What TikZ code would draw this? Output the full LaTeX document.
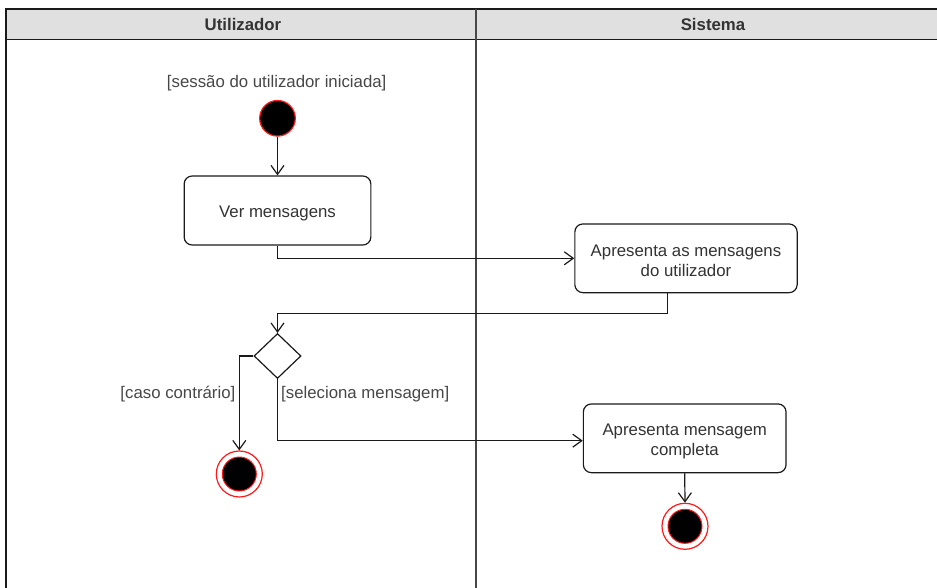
\documentclass[tikz,border=0pt]{standalone}
\usepackage{fontspec}
\setmainfont{Liberation Sans}
\usetikzlibrary{arrows.meta,shapes.geometric}

\definecolor{headfill}{HTML}{E0E0E0}
\definecolor{txt}{HTML}{333333}
\definecolor{edge}{HTML}{1A1A1A}
\definecolor{ring}{HTML}{FF1A1A}

\tikzset{
  lanebar/.style={draw=edge, line width=1.3pt},
  lanehead/.style={font=\fontsize{16.8}{20}\selectfont\bfseries, text=txt},
  actbox/.style={draw=edge, line width=1.2pt, rounded corners=8pt, fill=white,
    inner sep=0pt},
  acttext/.style={align=center, text=txt, font=\fontsize{16.8}{20}\selectfont,
    inner sep=0pt},
  guard/.style={text=txt!90, font=\fontsize{16.8}{20}\selectfont, inner sep=0pt},
  initial/.style={circle, fill=black, draw=ring, line width=1.2pt,
    minimum size=35.6pt, inner sep=0pt},
  finalring/.style={circle, fill=white, draw=ring, line width=1.2pt,
    minimum size=46pt, inner sep=0pt},
  finaldot/.style={circle, fill=black, draw=ring, line width=1pt,
    minimum size=34pt, inner sep=0pt},
  decision/.style={diamond, draw=edge, line width=1.2pt, fill=white,
    minimum width=47pt, minimum height=45pt, inner sep=0pt},
  flow/.style={draw=edge, line width=1.2pt,
    -{Straight Barb[length=9pt,width=13pt,line width=1.2pt]}},
}

\begin{document}
\begin{tikzpicture}[x=1pt,y=-1pt]
\useasboundingbox (0,0) rectangle (937,588);

% swimlane pool
\fill[headfill] (6,9) rectangle (937,39.5);
\draw[lanebar] (6,588) -- (6,9) -- (937,9);
\draw[lanebar] (6,39.5) -- (937,39.5);
\draw[lanebar, draw=edge!80] (476,9) -- (476,588);
\node[lanehead] (uhead) at (243,24.5) {Utilizador};
\node[lanehead] (shead) at (713,24.5) {Sistema};

% user lane
\node[guard] (g0) at (276.7,83) {[sessão do utilizador iniciada]};
\node[initial] (start) at (277.5,118.3) {};
\node[actbox, minimum width=186.7pt, minimum height=69pt] (v1) at (277.5,210.5) {};
\node[acttext] (v1t) at ([yshift=-3pt]v1.center) {Ver mensagens};
\node[decision] (dec) at (277.5,356) {};
\node[finalring] (end1) at (239.3,474) {};
\node[finaldot] (end1c) at (end1) {};
\node[guard, anchor=east] (g1) at (235.5,394.5) {[caso contrário]};
\node[guard, anchor=west] (g2) at (281,394.5) {[seleciona mensagem]};

% system lane
\node[actbox, minimum width=222.3pt, minimum height=68.7pt] (v2) at (686,258.3) {};
\node[acttext] (v2t) at ([yshift=-3pt]v2.center) {Apresenta as mensagens\\do utilizador};
\node[actbox, minimum width=202.7pt, minimum height=68.7pt] (v3) at (684.7,438.3) {};
\node[acttext] (v3t) at ([yshift=-3pt]v3.center) {Apresenta mensagem\\completa};
\node[finalring] (end2) at (685,526.3) {};
\node[finaldot] (end2c) at (end2) {};

% control flow
\draw[flow] (start) -- (v1);
\draw[flow] (v1.south) |- (v2.west);
\draw[flow] ([xshift=-18.3pt]v2.south) -- ++(0,20) -| (dec.north);
\draw[flow] (dec.west) -| (end1.north);
\draw[flow] (dec.south) |- ([yshift=-2.4pt]v3.west);
\draw[flow] (v3.south) -- (end2.north);
\end{tikzpicture}
\end{document}
